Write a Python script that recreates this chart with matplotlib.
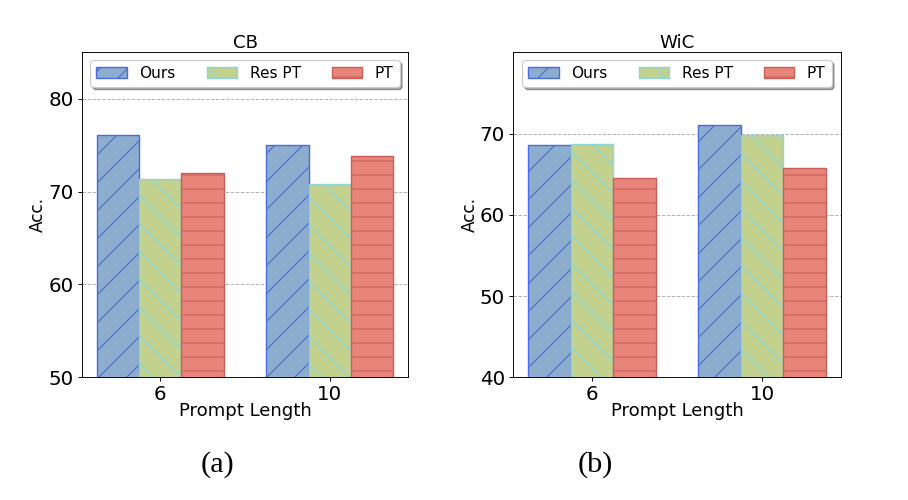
import numpy as np
import matplotlib.pyplot as plt

# data
prompt_lengths = ['6', '10']
methods = ['Ours', 'Res PT', 'PT']

cb_ours = [76.1, 75.0]
cb_res_pt = [71.4, 70.8]
cb_pt = [72.0, 73.8]

wic_ours = [68.6, 71.0]
wic_res_pt = [68.7, 69.8]
wic_pt = [64.5, 65.7]

face_colors = ['#8DADCE', '#C2D28E', '#E8847A']
edge_colors = ['#4A6BE0', '#8ED6D6', '#C8605A']
hatches = ['/', '\\', '-']

plt.rcParams['hatch.linewidth'] = 1.0

DPI = 84
fig = plt.figure(figsize=(908 / DPI, 500 / DPI), dpi=DPI)


def draw_panel(ax, series, title, ylim, yticks):
    x = np.arange(len(prompt_lengths))
    width = 0.25
    for i, vals in enumerate(series):
        ax.bar(x + (i - 1) * width, vals, width, label=methods[i],
               color=face_colors[i], edgecolor=edge_colors[i],
               hatch=hatches[i], linewidth=1.2)
    ax.set_ylim(*ylim)
    ax.set_yticks(yticks)
    ax.set_xticks(x)
    ax.set_xticklabels(prompt_lengths)
    ax.tick_params(axis='both', labelsize=17)
    ax.set_xlabel('Prompt Length', fontsize=15.5, labelpad=-2)
    ax.set_ylabel('Acc.', fontsize=14.5, labelpad=1)
    ax.set_title(title, fontsize=15.5, pad=3)
    ax.grid(axis='y', linestyle='--', color='#b0b0b0', linewidth=0.8)
    ax.set_axisbelow(True)
    ax.legend(loc='upper center', ncol=3, fontsize=13.2, shadow=True,
              fancybox=True, columnspacing=2.0)


ax1 = fig.add_axes([0.090, 0.2454, 0.3597, 0.65])
draw_panel(ax1, [cb_ours, cb_res_pt, cb_pt], 'CB', (50, 85), [50, 60, 70, 80])

ax2 = fig.add_axes([0.5653, 0.2454, 0.3606, 0.65])
draw_panel(ax2, [wic_ours, wic_res_pt, wic_pt], 'WiC', (40, 80), [40, 50, 60, 70])

fig.text(218 / 908, 1 - 465 / 500, '(a)', fontsize=26, family='Liberation Serif',
         ha='center', va='center')
fig.text(595 / 908, 1 - 465 / 500, '(b)', fontsize=26, family='Liberation Serif',
         ha='center', va='center')

fig.savefig('out.png', dpi=DPI)
